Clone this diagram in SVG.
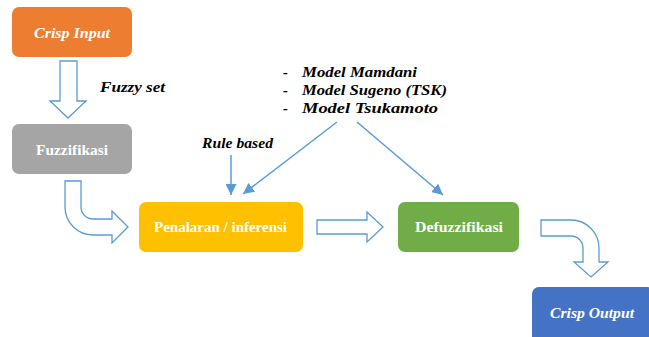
<svg xmlns="http://www.w3.org/2000/svg" width="649" height="337" viewBox="0 0 649 337">
  <style>
    .box-label { font-family: "Liberation Serif", "Times New Roman", serif; font-weight: bold; font-size: 15px; fill: #ffffff; }
    .italic { font-style: italic; }
    .note { font-family: "Liberation Serif", "Times New Roman", serif; font-weight: bold; font-style: italic; font-size: 14.5px; fill: #000000; }
    .block-arrow { fill: #ffffff; stroke: #5B9BD5; stroke-width: 1.3; stroke-linejoin: miter; }
    .thin-arrow { fill: none; stroke: #5B9BD5; stroke-width: 1.5; }
  </style>
  <defs>
    <marker id="head" markerUnits="userSpaceOnUse" markerWidth="12" markerHeight="11" refX="11" refY="5.5" orient="auto">
      <path d="M0,0 L11,5.5 L0,11 Z" fill="#5B9BD5"/>
    </marker>
  </defs>

  <rect width="649" height="337" fill="#ffffff"/>

  <!-- process blocks -->
  <g id="crisp-input">
    <rect x="12" y="7" width="120" height="50" rx="7" fill="#ED7D31"/>
    <text class="box-label italic" x="34" y="38" textLength="76" lengthAdjust="spacingAndGlyphs">Crisp Input</text>
  </g>
  <g id="fuzzifikasi">
    <rect x="12" y="124" width="120" height="50" rx="7" fill="#A5A5A5"/>
    <text class="box-label" x="36" y="155" textLength="72" lengthAdjust="spacingAndGlyphs">Fuzzifikasi</text>
  </g>
  <g id="penalaran">
    <rect x="139" y="202" width="164" height="50" rx="7" fill="#FFC000"/>
    <text class="box-label" x="154" y="232" textLength="133" lengthAdjust="spacingAndGlyphs">Penalaran / inferensi</text>
  </g>
  <g id="defuzzifikasi">
    <rect x="398" y="202" width="121" height="50" rx="7" fill="#70AD47"/>
    <text class="box-label" x="415" y="232" textLength="88" lengthAdjust="spacingAndGlyphs">Defuzzifikasi</text>
  </g>
  <g id="crisp-output">
    <rect x="532" y="287" width="122" height="56" rx="7" fill="#4472C4"/>
    <text class="box-label italic" x="550" y="318" textLength="84" lengthAdjust="spacingAndGlyphs">Crisp Output</text>
  </g>

  <!-- annotations -->
  <g id="fuzzy-set-label">
    <text class="note" x="100" y="92" textLength="65" lengthAdjust="spacingAndGlyphs">Fuzzy set</text>
  </g>
  <g id="rule-based-label">
    <text class="note" x="202" y="148" textLength="71" lengthAdjust="spacingAndGlyphs">Rule based</text>
  </g>
  <g id="model-list">
    <text class="note" x="283" y="77">-</text>
    <text class="note" x="302" y="77" textLength="115" lengthAdjust="spacingAndGlyphs">Model Mamdani</text>
    <text class="note" x="283" y="95">-</text>
    <text class="note" x="302" y="95" textLength="145" lengthAdjust="spacingAndGlyphs">Model Sugeno (TSK)</text>
    <text class="note" x="283" y="113">-</text>
    <text class="note" x="302" y="113" textLength="136" lengthAdjust="spacingAndGlyphs">Model Tsukamoto</text>
  </g>

  <!-- connectors -->
  <g id="connectors">
    <path class="block-arrow" d="M60,61 H77 V101 H86 L68,118 L50,101 H60 Z"/>
    <path class="block-arrow" d="M65,181 H81 V207 A12,12 0 0 0 93,219 H112 V211 L128,227 L112,243 V235 H93 A28,28 0 0 1 65,207 Z"/>
    <path class="block-arrow" d="M317,220 H367 V212 L383,227 L367,242 V234 H317 Z"/>
    <path class="block-arrow" d="M541,220 H571 A28,28 0 0 1 599,248 V262 H608 L591,277 L574,262 H583 V248 A12,12 0 0 0 571,236 H541 Z"/>
    <line class="thin-arrow" x1="231" y1="155" x2="231" y2="195" marker-end="url(#head)"/>
    <line class="thin-arrow" x1="337" y1="122" x2="243" y2="194" marker-end="url(#head)"/>
    <line class="thin-arrow" x1="357" y1="122" x2="443" y2="195" marker-end="url(#head)"/>
  </g>
</svg>
